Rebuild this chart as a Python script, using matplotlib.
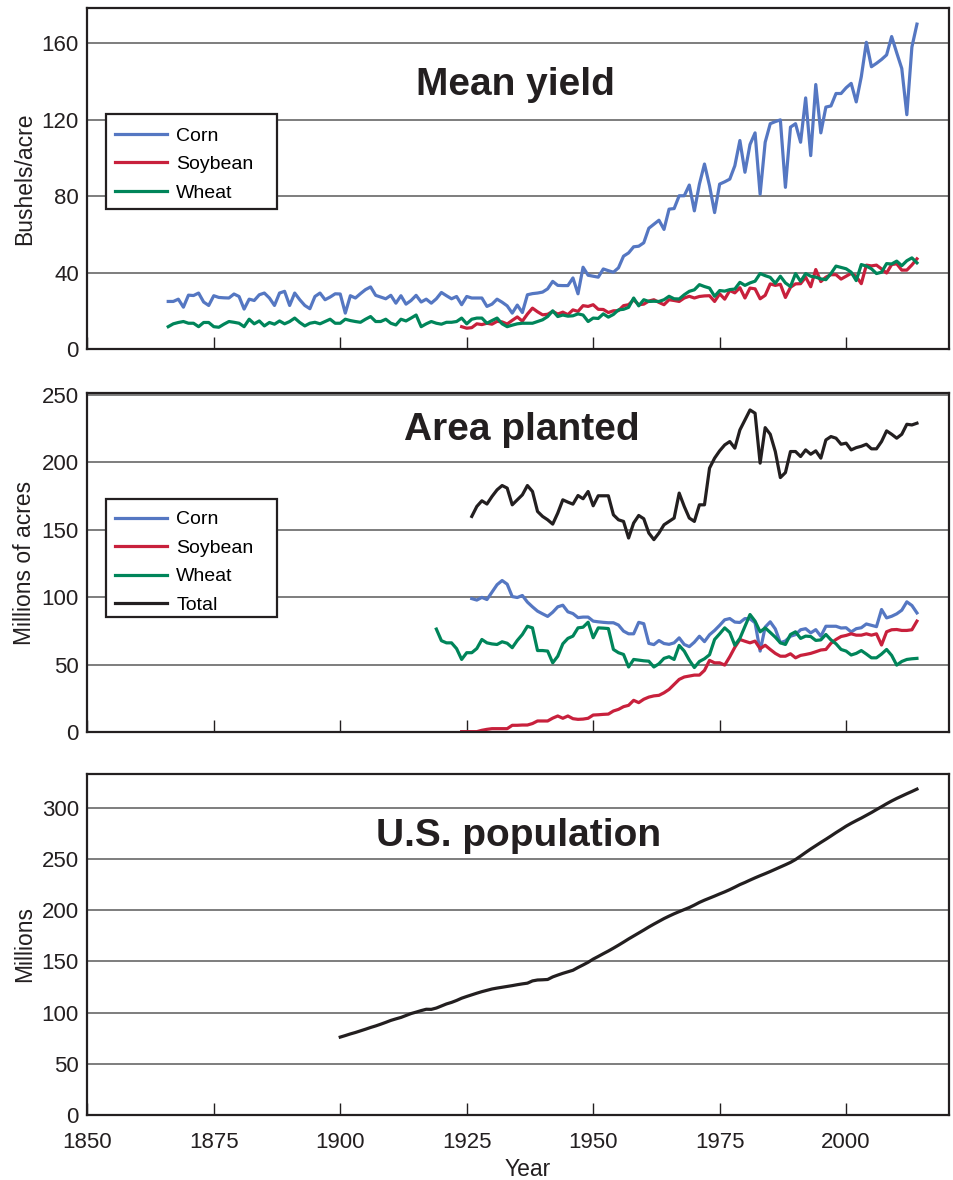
import matplotlib
matplotlib.use("Agg")
import matplotlib.pyplot as plt
from matplotlib.patches import Rectangle

plt.rcParams['font.family'] = ['Liberation Sans', 'DejaVu Sans']

# ---- data -------------------------------------------------------------
yield_years = list(range(1866, 2015))
corn_yield = [
    24.9, 24.9, 26.1, 21.9, 28.2, 28.0, 29.3, 24.6, 22.8, 27.9,
    27.0, 26.8, 26.7, 28.8, 27.5, 20.9, 26.1, 25.4, 28.4, 29.3,
    26.7, 22.8, 29.3, 30.2, 22.8, 29.3, 25.8, 22.8, 21.1, 27.5,
    29.3, 25.8, 27.2, 28.9, 28.8, 18.8, 27.9, 26.7, 29.0, 31.1,
    32.5, 28.1, 27.2, 26.3, 28.1, 24.0, 27.9, 23.5, 25.4, 28.1,
    24.6, 26.1, 24.0, 26.3, 29.6, 27.9, 26.3, 27.5, 23.2, 27.5,
    26.7, 26.7, 26.7, 22.3, 23.5, 26.1, 24.5, 22.6, 18.8, 23.0,
    19.1, 28.4, 29.0, 29.3, 29.8, 31.5, 35.4, 33.3, 33.2, 33.2,
    37.2, 28.9, 42.8, 38.6, 38.1, 37.6, 41.9, 41.0, 40.2, 42.5,
    48.6, 50.3, 53.5, 53.8, 55.6, 63.2, 65.3, 67.4, 62.6, 73.2,
    73.5, 80.2, 80.2, 85.8, 72.3, 86.3, 96.8, 85.4, 71.4, 86.3,
    87.5, 88.9, 95.9, 109.1, 92.5, 107.0, 113.1, 81.0, 108.2, 117.9,
    119.0, 119.9, 84.6, 116.1, 117.9, 108.2, 131.4, 101.2, 138.4, 113.1,
    126.6, 127.2, 133.7, 133.7, 136.7, 139.0, 129.3, 142.5, 160.5, 147.7,
    149.5, 151.5, 153.9, 163.5, 155.0, 146.8, 122.6, 158.0, 170.0]
wheat_yield = [
    11.7, 13.2, 13.9, 14.4, 13.5, 13.5, 11.7, 13.9, 13.9, 11.7,
    11.4, 13.0, 14.4, 14.0, 13.5, 11.7, 15.6, 13.2, 14.7, 12.1,
    13.9, 13.0, 14.7, 13.2, 14.4, 16.2, 13.9, 12.1, 13.5, 14.0,
    13.2, 14.4, 15.6, 13.5, 13.5, 15.6, 14.9, 14.4, 14.0, 15.6,
    17.0, 14.4, 14.4, 15.6, 13.5, 12.6, 15.6, 14.7, 16.2, 17.8,
    11.7, 13.2, 14.4, 13.5, 13.0, 14.0, 14.0, 14.4, 16.2, 13.2,
    15.6, 16.2, 16.2, 13.5, 14.9, 16.2, 13.2, 11.7, 12.5, 13.2,
    13.5, 13.5, 13.5, 14.4, 15.3, 17.0, 20.0, 17.0, 17.8, 17.2,
    17.4, 18.4, 17.8, 14.4, 16.2, 16.0, 18.4, 16.7, 18.1, 20.5,
    20.8, 21.8, 26.7, 22.6, 25.8, 24.9, 25.0, 24.9, 25.8, 27.6,
    26.3, 26.2, 28.4, 30.2, 31.0, 33.7, 32.7, 31.9, 27.6, 30.6,
    30.3, 31.1, 31.4, 34.9, 33.3, 34.6, 35.5, 39.5, 38.4, 37.5,
    34.4, 38.1, 34.6, 32.7, 39.5, 35.4, 39.5, 38.1, 37.6, 36.7,
    36.3, 39.5, 43.4, 42.7, 42.0, 40.2, 35.8, 44.2, 43.4, 42.0,
    39.5, 40.2, 44.7, 44.5, 46.0, 43.6, 46.2, 47.7, 45.1]
soy_years = list(range(1924, 2015))
soy_yield = [
    11.7, 10.9, 11.2, 13.2, 12.8, 13.5, 13.0, 14.5, 14.2, 13.1,
    15.0, 16.8, 14.6, 18.3, 21.4, 19.5, 17.9, 18.2, 19.7, 18.3,
    19.3, 18.0, 20.5, 19.7, 22.7, 22.3, 23.2, 20.8, 20.7, 19.1,
    20.0, 20.1, 22.7, 23.2, 25.8, 23.2, 23.5, 25.1, 25.8, 24.4,
    23.2, 25.8, 25.4, 24.9, 26.7, 27.6, 26.7, 27.5, 27.8, 27.9,
    24.9, 28.9, 26.1, 30.6, 29.4, 32.1, 26.7, 31.9, 31.5, 26.3,
    28.1, 34.1, 33.3, 33.9, 27.0, 32.3, 34.1, 34.2, 37.6, 32.6,
    41.6, 35.3, 37.6, 38.9, 38.9, 36.6, 38.1, 39.6, 38.0, 34.2,
    43.9, 43.5, 43.9, 41.9, 39.8, 44.2, 44.6, 41.3, 41.3, 44.0,
    47.2]

area_years = list(range(1926, 2015))
corn_area = [
    99.1, 98.0, 100.0, 98.4, 103.9, 109.4, 112.5, 109.8, 100.6, 99.9,
    101.4, 96.5, 93.0, 89.8, 87.8, 85.9, 89.0, 93.0, 94.2, 89.3,
    88.0, 85.0, 85.4, 85.4, 82.4, 81.9, 81.5, 81.2, 81.2, 79.5,
    75.0, 73.0, 73.0, 81.5, 80.5, 65.9, 65.0, 68.0, 65.8, 65.2,
    66.3, 70.0, 65.1, 63.5, 66.8, 71.2, 67.2, 72.3, 75.5, 79.3,
    83.4, 84.3, 81.7, 81.4, 84.3, 84.1, 81.2, 60.2, 78.0, 81.9,
    76.6, 66.4, 67.7, 71.2, 72.4, 76.0, 76.8, 73.7, 76.1, 71.2,
    78.6, 78.6, 78.6, 77.3, 77.5, 74.4, 76.8, 77.5, 80.3, 79.3,
    78.3, 91.0, 84.8, 86.0, 87.8, 90.5, 96.7, 94.0, 88.5]
soy_area = [
    0.5, 0.5, 0.5, 0.5, 1.5, 2.2, 2.7, 2.7, 2.7, 2.7,
    5.2, 5.2, 5.4, 5.4, 6.5, 8.4, 8.4, 8.4, 10.5, 12.1,
    10.4, 12.1, 10.1, 9.6, 9.8, 10.4, 12.8, 13.0, 13.3, 13.5,
    15.8, 17.0, 19.0, 20.0, 23.7, 22.0, 24.5, 26.1, 27.0, 27.4,
    29.3, 31.8, 35.5, 39.2, 41.0, 41.7, 42.4, 42.4, 45.9, 53.3,
    51.5, 51.5, 49.8, 56.0, 63.0, 68.8, 67.5, 66.3, 67.6, 62.0,
    64.5, 61.4, 58.5, 56.4, 56.4, 58.2, 55.2, 57.0, 57.7, 58.5,
    59.7, 61.0, 61.4, 66.0, 68.8, 71.0, 71.8, 73.0, 72.0, 72.0,
    73.0, 72.0, 73.0, 64.7, 74.5, 76.0, 76.2, 75.5, 75.5, 76.0,
    82.4]
wheat_area_years = list(range(1919, 2015))
wheat_area = [
    76.5, 67.9, 66.3, 66.3, 62.0, 54.0, 59.0, 59.0, 62.1, 68.8,
    66.3, 65.5, 65.1, 67.1, 66.0, 62.7, 68.1, 72.5, 78.6, 77.4,
    60.6, 60.6, 60.2, 51.5, 56.4, 65.6, 69.6, 71.3, 77.4, 77.9,
    81.6, 70.1, 77.4, 77.2, 76.9, 61.4, 59.0, 57.7, 48.4, 54.0,
    53.5, 53.0, 52.7, 48.4, 50.8, 54.8, 56.0, 54.0, 64.4, 60.2,
    53.5, 48.0, 52.5, 54.5, 57.5, 68.8, 73.0, 77.4, 74.0, 64.5,
    69.6, 78.5, 87.3, 82.4, 74.5, 77.4, 74.0, 70.5, 66.3, 65.1,
    72.5, 74.5, 69.6, 71.3, 71.0, 68.1, 68.5, 72.5, 68.5, 65.6,
    61.4, 60.2, 57.3, 58.5, 60.6, 58.0, 55.2, 55.2, 58.0, 61.4,
    57.0, 49.8, 52.5, 54.0, 54.5, 54.8]
total_area = [
    160.0, 167.4, 171.6, 169.2, 174.8, 179.7, 182.9, 181.0, 168.6, 172.3,
    176.0, 182.9, 178.5, 163.7, 160.0, 157.5, 154.3, 162.5, 172.3, 170.6,
    169.1, 175.5, 173.1, 178.5, 167.9, 175.3, 175.3, 175.3, 161.2, 157.5,
    156.3, 144.0, 155.1, 160.7, 158.3, 147.7, 142.8, 147.7, 153.8, 156.3,
    158.8, 177.3, 167.4, 158.8, 156.3, 168.6, 168.6, 195.8, 203.2, 208.6,
    213.0, 215.5, 210.6, 224.1, 231.5, 238.9, 236.5, 199.5, 225.8, 220.9,
    208.1, 188.8, 192.5, 208.1, 208.1, 204.4, 209.3, 206.1, 208.6, 203.2,
    216.7, 219.2, 218.0, 213.5, 214.3, 209.3, 211.0, 212.0, 213.5, 210.1,
    210.1, 215.5, 223.4, 220.9, 218.0, 220.9, 228.3, 227.8, 229.1]

pop_years = list(range(1900, 2015))
population = [
    76.1, 77.6, 79.2, 80.6, 82.2, 83.8, 85.5, 87.0, 88.7, 90.5,
    92.4, 93.9, 95.3, 97.2, 99.1, 100.5, 102.0, 103.3, 103.2, 104.5,
    106.5, 108.5, 110.0, 111.9, 114.1, 115.8, 117.4, 119.0, 120.5, 121.8,
    123.1, 124.0, 124.8, 125.6, 126.4, 127.3, 128.1, 128.8, 131.0, 131.9,
    132.1, 132.4, 134.9, 136.7, 138.4, 139.9, 141.4, 144.1, 146.6, 149.2,
    152.3, 154.9, 157.6, 160.2, 163.0, 165.9, 168.9, 172.0, 174.9, 177.8,
    180.7, 183.7, 186.5, 189.2, 191.9, 194.3, 196.6, 198.7, 200.7, 202.7,
    205.1, 207.7, 209.9, 211.9, 213.9, 216.0, 218.0, 220.2, 222.6, 225.1,
    227.2, 229.5, 231.7, 233.8, 235.8, 237.9, 240.1, 242.3, 244.5, 246.8,
    249.6, 253.0, 256.5, 259.9, 263.1, 266.3, 269.4, 272.6, 275.9, 279.0,
    282.2, 285.0, 287.6, 290.1, 292.8, 295.5, 298.4, 301.2, 304.1, 306.8,
    309.3, 311.6, 313.9, 316.1, 318.4]

x_ticks = [1850, 1875, 1900, 1925, 1950, 1975, 2000]

# ---- style -------------------------------------------------------------
INK = '#231f20'
BLUE = '#5577c2'
RED = '#c8203c'
GREEN = '#00855a'
GRID = '#5a5a5a'
LW = 2.3

fig = plt.figure(figsize=(9.54, 11.8), dpi=100)
left, width = 0.0915, 0.9036
ax1 = fig.add_axes([left, 0.7042, width, 0.2888])
ax2 = fig.add_axes([left, 0.3794, width, 0.2878])
ax3 = fig.add_axes([left, 0.0551, width, 0.2890])


def style_axes(ax, ylim, yticks, show_xlabels):
    ax.set_xlim(1850, 2020.4)
    ax.set_ylim(*ylim)
    ax.set_xticks(x_ticks)
    ax.set_yticks(yticks)
    ax.set_axisbelow(True)
    ax.yaxis.grid(True, color=GRID, lw=1.1)
    for s in ax.spines.values():
        s.set_linewidth(1.6)
        s.set_color(INK)
        s.set_zorder(6)
    ax.tick_params(axis='x', direction='in', length=9, width=1.0,
                   color=INK, labelsize=16, labelcolor=INK, pad=12,
                   labelbottom=show_xlabels)
    ax.tick_params(axis='y', length=0, labelsize=16, labelcolor=INK, pad=6)


def legend_box(ax, y0, h):
    ax.add_patch(Rectangle((0.0217, y0), 0.198, h, transform=ax.transAxes,
                           facecolor='white', edgecolor=INK, lw=1.6,
                           zorder=4))


def add_legend(ax, handles, top):
    leg = ax.legend(handles=handles, loc='upper left',
                    bbox_to_anchor=(0.0321, top), frameon=False,
                    borderaxespad=0, borderpad=0, handlelength=2.7,
                    handletextpad=0.45, labelspacing=0.56, fontsize=14)
    leg.set_zorder(5)
    return leg


# Mean yield
c1, = ax1.plot(yield_years, corn_yield, color=BLUE, lw=LW, label='Corn')
s1, = ax1.plot(soy_years, soy_yield, color=RED, lw=LW, label='Soybean')
w1, = ax1.plot(yield_years, wheat_yield, color=GREEN, lw=LW, label='Wheat')
style_axes(ax1, (0, 178.3), [0, 40, 80, 120, 160], False)
ax1.text(0.497, 0.7455, 'Mean yield', transform=ax1.transAxes,
         ha='center', va='baseline', fontsize=28, fontweight='bold', color=INK)
legend_box(ax1, 0.411, 0.278)
add_legend(ax1, [c1, s1, w1], 0.6516)

# Area planted
c2, = ax2.plot(area_years, corn_area, color=BLUE, lw=LW, label='Corn')
s2, = ax2.plot(soy_years, soy_area, color=RED, lw=LW, label='Soybean')
w2, = ax2.plot(wheat_area_years, wheat_area, color=GREEN, lw=LW, label='Wheat')
t2, = ax2.plot(area_years, total_area, color=INK, lw=LW, label='Total')
style_axes(ax2, (0, 251.7), [0, 50, 100, 150, 200, 250], False)
ax2.text(0.5035, 0.8607, 'Area planted', transform=ax2.transAxes,
         ha='center', va='baseline', fontsize=28, fontweight='bold', color=INK)
legend_box(ax2, 0.3404, 0.3457)
add_legend(ax2, [c2, s2, w2, t2], 0.652)

# U.S. population
ax3.plot(pop_years, population, color=INK, lw=LW)
style_axes(ax3, (0, 333.2), [0, 50, 100, 150, 200, 250, 300], True)
ax3.text(0.500, 0.789, 'U.S. population', transform=ax3.transAxes,
         ha='center', va='baseline', fontsize=28, fontweight='bold', color=INK)

# axis labels
fig.text(25 / 954, 1 - 178.7 / 1180, 'Bushels/acre', rotation=90,
         ha='center', va='center', fontsize=16.5, color=INK)
fig.text(25 / 954, 1 - 562.5 / 1180, 'Millions of acres', rotation=90,
         ha='center', va='center', fontsize=16.5, color=INK)
fig.text(25 / 954, 1 - 944.5 / 1180, 'Millions', rotation=90,
         ha='center', va='center', fontsize=16.5, color=INK)
fig.text(528 / 954, 4 / 1180, 'Year', ha='center', va='baseline',
         fontsize=16.5, color=INK)

fig.savefig('out.png', dpi=100, facecolor='white')
